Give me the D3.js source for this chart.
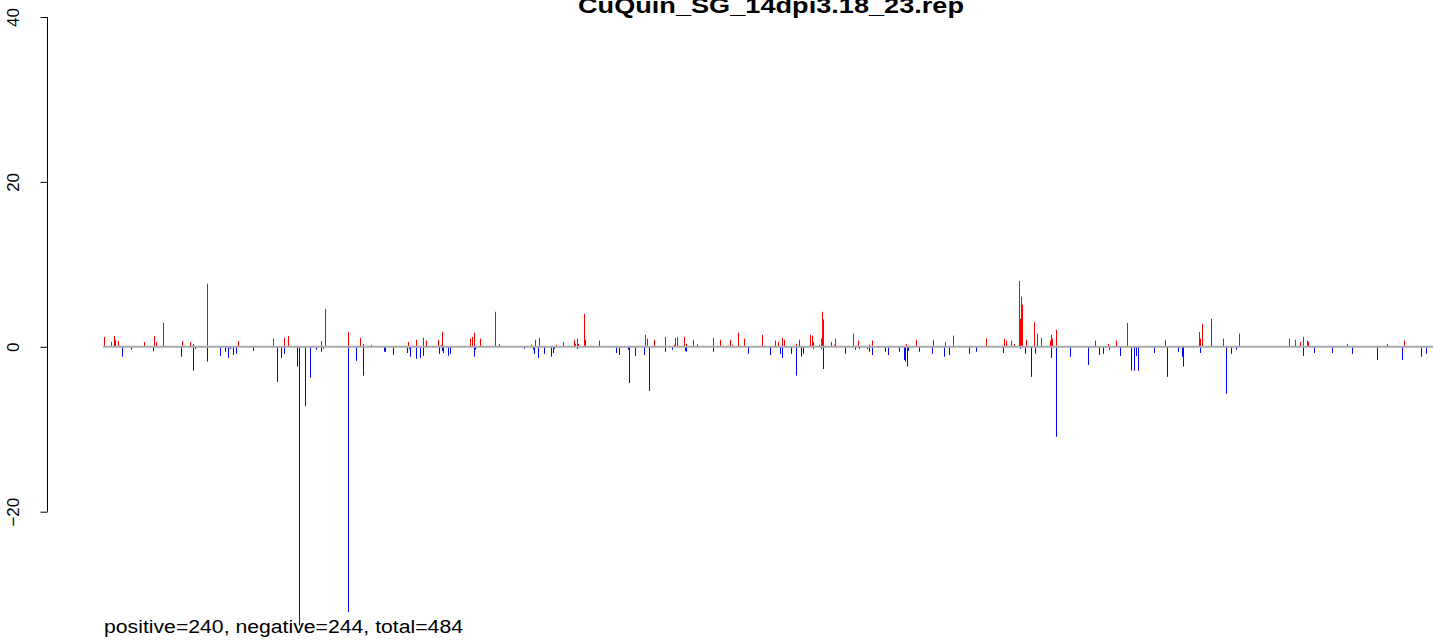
<!DOCTYPE html>
<html>
<head>
<meta charset="utf-8">
<script src="https://cdn.jsdelivr.net/npm/d3@7"></script>
<style>
  body { margin: 0; background: #fff; }
  text { font-family: "Liberation Sans", Arial, Helvetica, sans-serif; }
</style>
</head>
<body>
<div id="svgContainer"></div>
<script>
// chart text
var title = "CuQuin_SG_14dpi3.18_23.rep";
var summary = "positive=240, negative=244, total=484";
var yTicks = [-20, 0, 20, 40];

// positive scores: position along the sequence and value
var posX = [0, 7, 10, 11, 14, 40, 50, 52, 59, 78, 84, 86, 89, 103, 134, 169, 173, 180, 184, 217, 221, 244, 256, 259, 267,
  304, 312, 319, 322, 334, 337, 338, 366, 368, 370, 376, 391, 395, 427, 431, 435, 452, 459, 470, 471, 473, 474, 480, 481, 495,
  541, 543, 550, 561, 570, 571, 573, 580, 582, 589, 593, 609, 616, 626, 628, 634, 640, 658, 671, 673, 674, 678, 680, 692, 695,
  706, 708, 709, 715, 717, 718, 719, 727, 730, 731, 749, 754, 765, 768, 802, 804, 812, 829, 841, 849,
  856, 882, 900, 902, 907, 910, 915, 916, 917, 918, 922, 930, 933, 937, 946, 947, 948, 952, 991, 1004, 1012, 1023, 1061, 1078,
  1095, 1096, 1098, 1107, 1119, 1135, 1185, 1191, 1196, 1199, 1203, 1204, 1227, 1243, 1283, 1300];
var posY = [1.2, 0.6, 1.3, 0.85, 0.7, 0.6, 1.3, 0.6, 2.9, 0.7, 0.1, 0.6, 0.35, 7.65, 0.7, 1.0, 0.1, 1.1, 1.3, 0.7, 4.6, 1.8, 1.1, 0.35, 0.25,
  0.6, 0.85, 1.1, 0.75, 0.85, 0.25, 1.8, 1.0, 1.2, 1.7, 1.0, 4.25, 0.35, 0.25, 0.85, 1.1, 0.25, 0.6, 0.85, 0.35, 1.0, 0.35, 4.0, 0.85, 0.75,
  1.45, 1.0, 0.85, 1.2, 0.25, 1.1, 1.2, 1.2, 0.35, 0.85, 0.35, 1.1, 0.85, 0.85, 0.25, 1.7, 1.0, 1.45, 0.75, 0.1, 0.6, 1.1, 0.85, 0.35, 0.85,
  1.45, 1.35, 0.6, 0.25, 1.0, 4.25, 3.3, 0.6, 0.25, 1.0, 1.6, 0.75, 0.25, 0.75, 0.35, 0.1, 0.85, 0.85, 0.6, 1.35,
  0.1, 1.0, 1.0, 0.75, 0.75, 0.35, 8.0, 3.4, 6.1, 5.1, 0.85, 3.0, 1.6, 1.1, 0.75, 1.45, 1.0, 2.05, 0.75, 0.35, 0.75, 2.9, 0.85, 0.1,
  1.8, 1.0, 2.8, 3.4, 1.0, 1.6, 1.0, 0.85, 0.6, 1.2, 0.75, 0.6, 0.1, 0.35, 0.35, 0.75];

// negative scores
var negX = [18, 27, 49, 77, 89, 91, 103, 116, 121, 124, 126, 129, 132, 149, 173, 177, 180, 193, 195, 201, 206, 212, 217, 219, 244, 252, 259, 280, 281, 289,
  303, 305, 306, 312, 316, 319, 335, 338, 339, 344, 346, 370, 371, 420, 429, 430, 434, 440, 447, 449, 450, 473, 512, 515, 524, 525, 531, 540, 545, 561, 568,
  581, 582, 609, 644, 666, 676, 678, 687, 692, 697, 699, 709, 717, 719, 741, 751, 755, 763, 765, 768, 781, 784, 795, 800, 801, 803, 804, 815, 828, 840, 845,
  865, 872, 899, 916, 921, 927, 931, 947, 952, 966, 984, 995, 999, 1005, 1016, 1027, 1030, 1032, 1034, 1050, 1063, 1074, 1078, 1079, 1096, 1122, 1127, 1132,
  1199, 1210, 1228, 1248, 1273, 1298, 1317, 1322];
var negY = [-1.2, -0.35, -0.5, -1.2, -2.9, -0.25, -1.8, -1.1, -0.6, -1.35, -0.25, -1.0, -0.85, -0.5, -4.25, -1.35, -0.85, -2.4, -33.8, -7.2, -3.75, -0.35, -0.6, -0.25, -32.2, -1.7, -3.5, -0.6, -0.6, -1.0,
  -0.75, -0.25, -1.2, -1.45, -1.35, -1.1, -0.85, -0.5, -0.75, -1.1, -0.85, -1.2, -0.35, -0.25, -0.35, -0.85, -1.35, -0.85, -1.2, -0.75, -0.25, -0.25, -0.75, -1.0, -0.35, -4.4, -1.1, -1.0, -5.35, -0.6, -0.35,
  -0.5, -0.6, -0.6, -0.85, -1.0, -0.85, -1.35, -0.85, -3.5, -1.2, -0.85, -0.25, -0.25, -2.7, -0.85, -0.35, -0.25, -0.25, -0.6, -1.0, -0.6, -1.0, -0.6, -1.6, -1.8, -2.4, -0.5, -0.6, -0.85, -1.2, -1.0,
  -0.85, -0.6, -0.75, -0.25, -0.85, -3.65, -0.85, -1.35, -10.9, -1.2, -2.2, -1.0, -0.85, -0.35, -1.1, -2.9, -2.9, -1.1, -2.9, -0.75, -3.65, -0.6, -1.2, -2.4, -0.75, -5.7, -0.85, -0.35,
  -1.1, -0.75, -0.75, -0.85, -1.6, -1.6, -1.2, -0.85];

var width = 1433, height = 640;

var svg = d3.select("#svgContainer")
    .append("svg")
    .attr("width", width)
    .attr("height", height)
    .style("display", "block")
    .style("background", "#fff");

var x = d3.scaleLinear()
    .domain([0, 1329])
    .range([104, 1433]);

var y = d3.scaleLinear()
    .domain([-20, 40])
    .range([511.7, 17]);

// vertical "h" lines, one per score
function drawSpikes(xs, ys, colour) {
    svg.append("g")
        .selectAll("line")
        .data(d3.zip(xs, ys))
        .join("line")
        .attr("x1", function(d) { return x(d[0]) + 0.5; })
        .attr("x2", function(d) { return x(d[0]) + 0.5; })
        .attr("y1", y(0))
        .attr("y2", function(d) { return y(d[1]); })
        .style("stroke", colour)
        .style("stroke-width", 1);
}
drawSpikes(posX, posY, "#ff0000");
drawSpikes(negX, negY, "#0000ff");

// zero line on top
svg.append("line")
    .attr("x1", x(-1))
    .attr("x2", width)
    .attr("y1", y(0))
    .attr("y2", y(0))
    .style("stroke", "#aaaaaa")
    .style("stroke-width", 2);

// y axis, R style (labels parallel to the axis)
var axis = svg.append("g")
    .attr("transform", "translate(47.5,0)")
    .call(d3.axisLeft(y).tickValues(yTicks).tickSize(7).tickFormat(d3.format("d")));
axis.select(".domain")
    .attr("d", "M0," + y(-20) + "V" + y(40));
axis.selectAll("line").style("stroke", "#000");
// tick groups are already moved to y(d), so only shift left and turn
axis.selectAll("text")
    .attr("x", null)
    .attr("y", null)
    .attr("dy", null)
    .attr("transform", "translate(-29,0) rotate(-90)")
    .style("text-anchor", "middle")
    .style("font-family", "'Liberation Sans', Arial, sans-serif")
    .style("font-size", "17px")
    .style("fill", "#000");

// title, partly cut by the top edge like the original
svg.append("text")
    .attr("x", 771)
    .attr("y", 13)
    .attr("text-anchor", "middle")
    .attr("textLength", 386)
    .attr("lengthAdjust", "spacingAndGlyphs")
    .style("font-weight", "bold")
    .style("font-size", "21.6px")
    .text(title);

// counts under the plot
svg.append("text")
    .attr("x", 104)
    .attr("y", 633)
    .attr("textLength", 359)
    .attr("lengthAdjust", "spacingAndGlyphs")
    .style("font-size", "18px")
    .text(summary);
</script>
</body>
</html>
